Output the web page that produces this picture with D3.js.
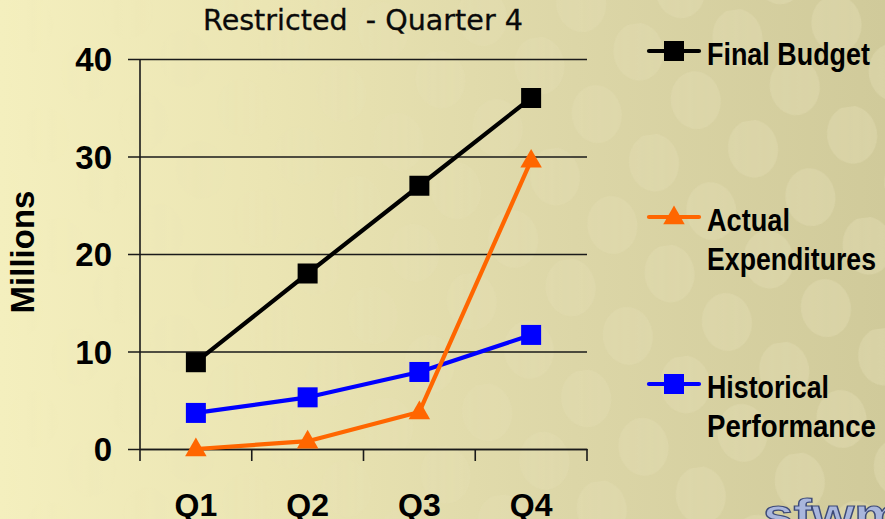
<!DOCTYPE html>
<html>
<head>
<meta charset="utf-8">
<script src="https://cdn.jsdelivr.net/npm/d3@7"></script>
<style>
  html, body { margin: 0; padding: 0; background: #efe9b8; }
  svg { display: block; }
</style>
</head>
<body>
<div id="chart"></div>
<script>
const categories = ["Q1", "Q2", "Q3", "Q4"];
const finalBudget = [8.9, 18.0, 27.0, 36.0];
const actualExpenditures = [0, 0.8, 3.8, 29.6];
const historicalPerformance = [3.7, 5.3, 7.9, 11.7];
const yTicks = [0, 10, 20, 30, 40];
const seriesNames = ["Final Budget", "Actual Expenditures", "Historical Performance"];
const seriesColors = ["#000000", "#ff6600", "#0000ff"];
const seriesMarkers = ["square", "triangle", "square"];
const chartTitle = "Restricted  - Quarter 4";
const yTitle = "Millions";

const W = 885, H = 519;
const svg = d3.select("#chart").append("svg").attr("width", W).attr("height", H);
const defs = svg.append("defs");

// background
const bg = defs.append("linearGradient").attr("id", "bg").attr("x1", 0).attr("x2", 1).attr("y1", 0).attr("y2", 0);
bg.append("stop").attr("offset", "0").attr("stop-color", "#f4efbe");
bg.append("stop").attr("offset", "0.3").attr("stop-color", "#ebe5b3");
bg.append("stop").attr("offset", "0.65").attr("stop-color", "#dcd6a7");
bg.append("stop").attr("offset", "1").attr("stop-color", "#d0ca9a");
svg.append("rect").attr("width", W).attr("height", H).attr("fill", "url(#bg)");

const mg = defs.append("linearGradient").attr("id", "mg").attr("x1", 0).attr("x2", 1).attr("y1", 0).attr("y2", 0);
mg.append("stop").attr("offset", "0").attr("stop-color", "#000");
mg.append("stop").attr("offset", "0.25").attr("stop-color", "#222");
mg.append("stop").attr("offset", "0.7").attr("stop-color", "#aaa");
mg.append("stop").attr("offset", "1").attr("stop-color", "#eee");
defs.append("mask").attr("id", "fade").append("rect").attr("width", W).attr("height", H).attr("fill", "url(#mg)");

const pat = defs.append("pattern").attr("id", "dots").attr("patternUnits", "userSpaceOnUse")
  .attr("width", 100).attr("height", 112).attr("patternTransform", "rotate(-8)");
[[25, 28], [75, 84], [75, -28], [-25, 84], [125, 84]].forEach(([ex, ey]) => {
  pat.append("ellipse").attr("cx", ex).attr("cy", ey).attr("rx", 25).attr("ry", 29)
    .attr("fill", "#ece8c2").attr("opacity", 0.32);
});
svg.append("rect").attr("width", W).attr("height", H).attr("fill", "url(#dots)").attr("mask", "url(#fade)");

// scales
const plot = { left: 140, right: 587, top: 59, bottom: 449 };
const x = d3.scaleBand().domain(categories).range([plot.left, plot.right]);
const y = d3.scaleLinear().domain([0, 40]).range([plot.bottom, plot.top]);

// title
const title = svg.append("text").attr("x", 363).attr("y", 30).attr("text-anchor", "middle")
  .attr("font-family", "DejaVu Sans, Verdana, sans-serif").attr("font-size", 22)
  .style("white-space", "pre").attr("fill", "#0a0a0a").attr("stroke", "#0a0a0a").attr("stroke-width", 0.3)
  .text(chartTitle);
const tw = title.node().getComputedTextLength();
if (tw > 0) title.attr("font-size", 22 * 320 / tw);

// gridlines + y axis
const yAxis = d3.axisLeft(y).tickValues(yTicks).tickSize(-(plot.right - plot.left)).tickPadding(28).tickFormat(d3.format("d"));
const gy = svg.append("g").attr("transform", `translate(${plot.left},0)`).call(yAxis);
gy.select(".domain").remove();
gy.selectAll(".tick line").attr("stroke", "#1a1a1a").attr("stroke-width", 1.6).attr("x1", -12);
gy.selectAll(".tick text").attr("font-family", "Liberation Sans, Arial, sans-serif").attr("font-weight", "bold")
  .attr("font-size", 33).attr("fill", "#000").attr("dy", "0.36em");
svg.append("line").attr("x1", plot.left).attr("x2", plot.left).attr("y1", plot.top).attr("y2", plot.bottom)
  .attr("stroke", "#1a1a1a").attr("stroke-width", 1.6);

// x axis
const xAxis = d3.axisBottom(x).tickSize(0).tickPadding(44);
const gx = svg.append("g").attr("transform", `translate(0,${plot.bottom})`).call(xAxis);
gx.select(".domain").attr("stroke", "#1a1a1a").attr("stroke-width", 1.6);
gx.selectAll(".tick text").attr("font-family", "Liberation Sans, Arial, sans-serif").attr("font-weight", "bold")
  .attr("font-size", 32).attr("fill", "#000");
const boundaries = categories.map(c => x(c)).concat([plot.right]);
gx.selectAll(".bticks").data(boundaries).enter().append("line")
  .attr("x1", d => d).attr("x2", d => d).attr("y1", 0).attr("y2", 12)
  .attr("stroke", "#1a1a1a").attr("stroke-width", 1.6);

// y title
svg.append("text").attr("transform", "translate(34,252) rotate(-90)").attr("text-anchor", "middle")
  .attr("font-family", "Liberation Sans, Arial, sans-serif").attr("font-weight", "bold").attr("font-size", 33)
  .attr("fill", "#000").text(yTitle);

// series
const seriesData = [finalBudget, actualExpenditures, historicalPerformance];
const cx = c => x(c) + x.bandwidth() / 2;
const line = d3.line().x((d, i) => cx(categories[i])).y(d => y(d));
const triangle = d3.symbol().type(d3.symbolTriangle).size(200);

function drawMarker(g, type, px, py, color) {
  if (type === "square") {
    g.append("rect").attr("x", px - 10).attr("y", py - 10).attr("width", 20).attr("height", 20).attr("fill", color);
  } else {
    g.append("path").attr("d", triangle()).attr("transform", `translate(${px},${py + 1})`).attr("fill", color);
  }
}

const order = [2, 1, 0];
order.forEach(si => {
  const g = svg.append("g");
  g.append("path").datum(seriesData[si]).attr("d", line).attr("fill", "none")
    .attr("stroke", seriesColors[si]).attr("stroke-width", 4.2).attr("stroke-linejoin", "round");
  seriesData[si].forEach((v, i) => drawMarker(g, seriesMarkers[si], cx(categories[i]), y(v), seriesColors[si]));
});

// legend
const legendY = [51, 217, 384];
const legendLines = [["Final Budget"], ["Actual", "Expenditures"], ["Historical", "Performance"]];
const legendWidths = [[163], [83, 169], [122, 169]];
seriesNames.forEach((n, si) => {
  const g = svg.append("g");
  g.append("line").attr("x1", 649).attr("x2", 699).attr("y1", legendY[si]).attr("y2", legendY[si])
    .attr("stroke", seriesColors[si]).attr("stroke-width", 4.2).attr("stroke-linecap", "round");
  drawMarker(g, seriesMarkers[si], 674, legendY[si], seriesColors[si]);
  legendLines[si].forEach((l, k) => {
    g.append("text").attr("x", 707).attr("y", legendY[si] + 14 + 39 * k)
      .attr("font-family", "Liberation Sans, Arial, sans-serif")
      .attr("font-weight", "bold").attr("font-size", 31).attr("fill", "#000")
      .attr("textLength", legendWidths[si][k]).attr("lengthAdjust", "spacingAndGlyphs")
      .text(l);
  });
});

// logo fragment
svg.append("text").attr("x", 763).attr("y", 530).attr("font-family", "Liberation Sans, Arial, sans-serif")
  .attr("font-weight", "bold").attr("font-size", 44).attr("fill", "#a9b6dc").attr("stroke", "#3d4a78")
  .attr("stroke-width", 1.2).attr("textLength", 140).attr("lengthAdjust", "spacingAndGlyphs").text("sfwm");
</script>
</body>
</html>
